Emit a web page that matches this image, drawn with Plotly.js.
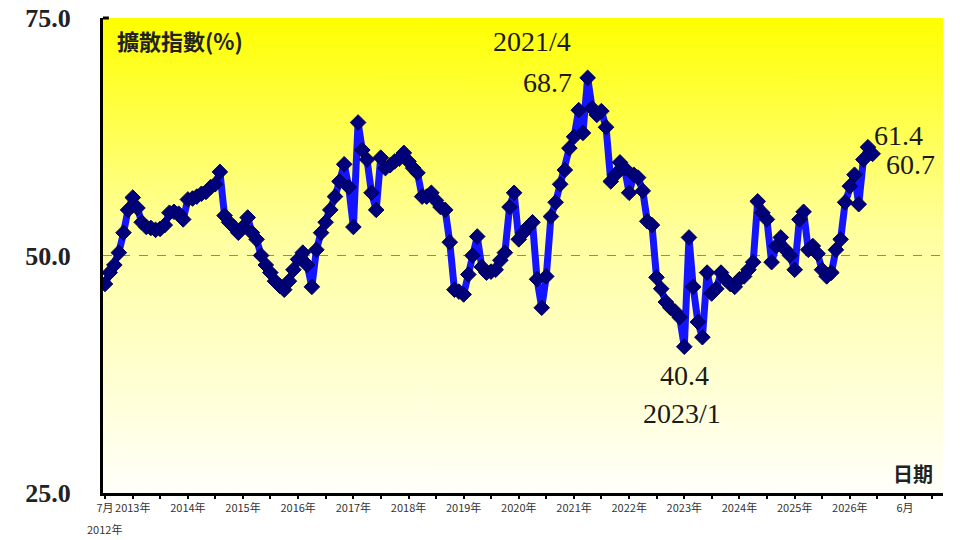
<!DOCTYPE html>
<html>
<head>
<meta charset="utf-8">
<script src="https://cdn.plot.ly/plotly-3.0.1.min.js"></script>
<style>
  body { margin: 0; background: #fff; }
  #plot { width: 960px; height: 540px; }
</style>
</head>
<body>
<div id="plot"></div>
<script>
// monthly diffusion index, 2012/7 .. 2026/6
const startYear = 2012;
const startMonth = 7;
const indexValues = [
  47.0, 48.2, 49.0, 50.3, 52.4, 54.8, 56.1, 55.0, 53.5, 53.0, 52.9, 52.7,
  52.8, 53.2, 54.5, 54.6, 54.4, 53.8, 55.9, 56.0, 56.2, 56.5, 56.7, 57.2,
  57.5, 58.8, 54.2, 53.5, 53.0, 52.4, 53.0, 54.0, 52.4, 51.7, 50.0, 49.0,
  48.2, 47.3, 46.8, 46.4, 47.3, 48.5, 49.6, 50.3, 49.0, 46.7, 50.6, 52.4,
  53.5, 54.8, 56.2, 57.8, 59.6, 57.2, 53.0, 64.0, 61.1, 60.1, 56.6, 54.8,
  60.3, 59.2, 59.5, 59.9, 60.2, 60.8, 59.9, 59.2, 58.7, 56.2, 56.2, 56.6,
  55.8, 55.1, 54.8, 51.4, 46.4, 46.2, 45.9, 48.0, 50.0, 52.0, 48.8, 48.2,
  48.3, 48.5, 49.5, 50.3, 55.1, 56.6, 51.7, 52.4, 53.0, 53.5, 47.5, 44.5,
  47.8, 54.1, 55.6, 57.5, 59.0, 61.3, 62.5, 65.3, 62.9, 68.7, 65.5, 64.8,
  65.2, 63.5, 57.8, 58.5, 59.8, 59.2, 56.6, 58.5, 58.2, 56.8, 53.6, 53.2,
  47.7, 46.5, 45.1, 44.5, 44.1, 43.5, 40.4, 51.9, 46.7, 43.0, 41.4, 48.2,
  46.0, 46.5, 48.2, 47.5, 47.0, 46.7, 47.5, 47.8, 48.5, 49.3, 55.7, 54.5,
  53.8, 49.3, 51.0, 51.9, 50.6, 50.0, 48.5, 53.8, 54.6, 50.6, 51.0, 50.2,
  48.5, 47.8, 48.2, 50.6, 51.7, 55.6, 57.3, 58.5, 55.4, 60.1, 61.4, 60.7
];

// axis ticks (half-year) and their labels
const tickDates = [
  '2012-07-01', '2013-01-01', '2013-07-01', '2014-01-01', '2014-07-01',
  '2015-01-01', '2015-07-01', '2016-01-01', '2016-07-01', '2017-01-01',
  '2017-07-01', '2018-01-01', '2018-07-01', '2019-01-01', '2019-07-01',
  '2020-01-01', '2020-07-01', '2021-01-01', '2021-07-01', '2022-01-01',
  '2022-07-01', '2023-01-01', '2023-07-01', '2024-01-01', '2024-07-01',
  '2025-01-01', '2025-07-01', '2026-01-01', '2026-07-01', '2027-01-01',
  '2027-07-01'
];
const tickLabels = [
  '7月', '2013年', '', '2014年', '',
  '2015年', '', '2016年', '', '2017年',
  '', '2018年', '', '2019年', '',
  '2020年', '', '2021年', '', '2022年',
  '', '2023年', '', '2024年', '',
  '2025年', '', '2026年', '', '6月',
  ''
];
const firstYearLabel = '2012年';
const yTicks = [25, 50, 75];
const yTickLabels = ['25.0', '50.0', '75.0'];

// points that carry a value label: [index, text, xshift, yshift]
const markedPoints = [
  [105, '68.7', -40, -5],
  [126, '40.4', 0, -29],
  [166, '61.4', 31, 12],
  [167, '60.7', 38, -11]
];
const dateLabels = [
  [105, '2021/4', -56, 36],
  [126, '2023/1', -2, -67]
];

const months = [];
for (let i = 0; i < indexValues.length; i++) {
  const m = startMonth - 1 + i;
  const y = startYear + Math.floor(m / 12);
  const mm = (m % 12) + 1;
  months.push(y + '-' + (mm < 10 ? '0' : '') + mm + '-01');
}

function gradientImage() {
  const c = document.createElement('canvas');
  c.width = 4;
  c.height = 400;
  const ctx = c.getContext('2d');
  const g = ctx.createLinearGradient(0, 0, 0, 400);
  g.addColorStop(0, '#ffff00');
  g.addColorStop(0.45, '#ffff9e');
  g.addColorStop(1, '#fffffb');
  ctx.fillStyle = g;
  ctx.fillRect(0, 0, 4, 400);
  return c.toDataURL();
}

const serif = {family: 'Liberation Serif, Times New Roman, serif', size: 28, color: '#1a1a1a'};
const tickFont = {family: 'Noto Sans CJK TC', size: 11, color: '#333'};

const annotations = [];
markedPoints.concat(dateLabels).forEach(function (p) {
  annotations.push({
    x: months[p[0]], y: indexValues[p[0]], xref: 'x', yref: 'y',
    text: p[1], showarrow: false, xshift: p[2], yshift: p[3],
    xanchor: 'center', yanchor: 'middle', font: serif
  });
});
annotations.push({
  x: 0.014, y: 0.954, xref: 'paper', yref: 'paper', xanchor: 'left', yanchor: 'middle',
  text: '擴散指數(%)', showarrow: false,
  font: {family: 'Noto Sans CJK TC', size: 22, color: '#222', weight: 'bold'}
});
annotations.push({
  x: 0.99, y: 0.042, xref: 'paper', yref: 'paper', xanchor: 'right', yanchor: 'middle',
  text: '日期', showarrow: false,
  font: {family: 'Noto Sans CJK TC', size: 20, color: '#222', weight: 'bold'}
});
// second line under the first tick
annotations.push({
  x: tickDates[0], y: 0, xref: 'x', yref: 'paper', xanchor: 'center', yanchor: 'top',
  yshift: -26, text: firstYearLabel, showarrow: false, font: tickFont
});

const trace = {
  x: months,
  y: indexValues,
  type: 'scatter',
  mode: 'lines+markers',
  line: {color: '#1414ff', width: 7},
  marker: {symbol: 'diamond', size: 12, color: '#00007a', line: {color: '#000050', width: 1}},
  hoverinfo: 'x+y'
};

const layout = {
  width: 960,
  height: 540,
  margin: {l: 103, r: 17, t: 18, b: 47},
  paper_bgcolor: '#ffffff',
  plot_bgcolor: 'rgba(0,0,0,0)',
  showlegend: false,
  xaxis: {
    type: 'date',
    range: ['2012-06-18', '2027-09-10'],
    tickmode: 'array',
    tickvals: tickDates,
    ticktext: tickLabels,
    ticks: 'outside',
    ticklen: 3,
    tickwidth: 2,
    tickcolor: '#000',
    showline: true,
    linecolor: '#000',
    linewidth: 3,
    showgrid: false,
    zeroline: false,
    tickangle: 0,
    tickfont: tickFont
  },
  yaxis: {
    range: [25, 75],
    tickmode: 'array',
    tickvals: yTicks,
    ticktext: yTickLabels,
    ticks: '',
    showline: true,
    linecolor: '#000',
    linewidth: 3,
    showgrid: false,
    zeroline: false,
    ticklabelstandoff: 24,
    tickfont: {family: 'Liberation Serif, serif', size: 26, color: '#222', weight: 'bold'}
  },
  shapes: [{
    type: 'line', xref: 'paper', yref: 'y', x0: 0, x1: 1, y0: 50, y1: 50,
    line: {color: '#8a8a8a', width: 1, dash: 'dash'}, layer: 'below'
  }, {
    // small hook at the top of the left axis
    type: 'line', xref: 'paper', yref: 'paper', x0: 0, x1: 0.007, y0: 1, y1: 1,
    line: {color: '#000', width: 3}
  }],
  images: [{
    source: gradientImage(), xref: 'paper', yref: 'paper',
    x: 0, y: 1, sizex: 1, sizey: 1, sizing: 'stretch',
    xanchor: 'left', yanchor: 'top', layer: 'below'
  }],
  annotations: annotations
};

Plotly.newPlot('plot', [trace], layout, {displayModeBar: false, staticPlot: true});
</script>
</body>
</html>
